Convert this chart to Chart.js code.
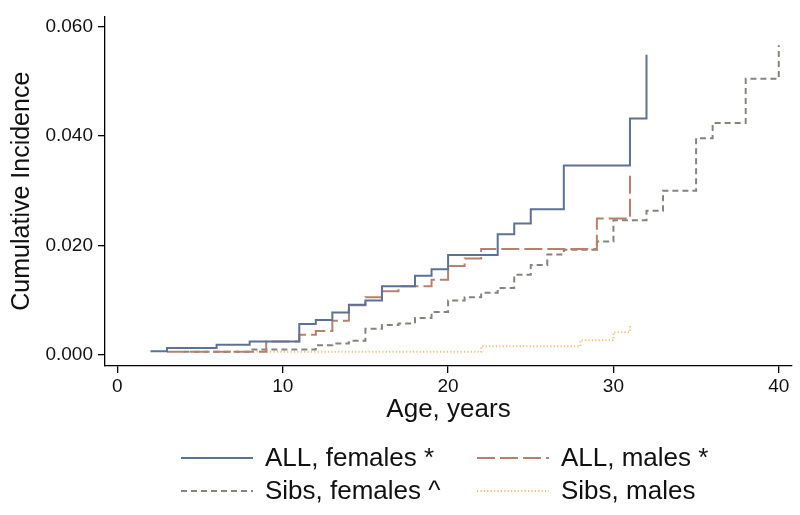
<!DOCTYPE html>
<html>
<head>
<meta charset="utf-8">
<script src="https://cdn.jsdelivr.net/npm/chart.js@4.4.0/dist/chart.umd.min.js"></script>
<style>
  html, body { margin: 0; padding: 0; background: #fff; }
  #wrap { width: 800px; height: 515px; }
</style>
</head>
<body>
<div id="wrap"><canvas id="Incidence" width="800" height="515"></canvas></div>
<script>
// ages (years) where each curve steps up, and the cumulative incidence after the step
const allFemAge = [2, 3, 6, 8, 11, 12, 13, 14, 15, 16, 18, 19, 20, 23, 24, 25, 27, 31, 32];
const allFemCI  = [0.0006, 0.0012, 0.0018, 0.0024, 0.0056, 0.0063, 0.0077, 0.0091, 0.0099, 0.0125,
                   0.0144, 0.0156, 0.0182, 0.0220, 0.0240, 0.0266, 0.0346, 0.0432, 0.0549];

const allMaleAge = [3, 9, 11, 12, 13, 14, 15, 16, 17, 19, 20, 21, 22, 29, 31];
const allMaleCI  = [0.0005, 0.0024, 0.0036, 0.0043, 0.0062, 0.0090, 0.0105, 0.0116, 0.0125, 0.0137,
                    0.0162, 0.0176, 0.0193, 0.0249, 0.0335];

const sibFemAge = [4, 8, 12, 13, 14, 15, 16, 17, 18, 19, 20, 21, 22, 23, 24, 25, 26, 27, 29, 30,
                   32, 33, 35, 36, 38, 40];
const sibFemCI  = [0.0005, 0.0009, 0.0017, 0.0020, 0.0025, 0.0047, 0.0054, 0.0057, 0.0067, 0.0078,
                   0.0099, 0.0105, 0.0113, 0.0122, 0.0146, 0.0164, 0.0183, 0.0192, 0.0207, 0.0246,
                   0.0263, 0.0300, 0.0396, 0.0424, 0.0505, 0.0566];

const sibMaleAge = [8, 22, 28, 30, 31];
const sibMaleCI  = [0.0005, 0.0015, 0.0026, 0.0041, 0.0055];

const xTicks = [0, 10, 20, 30, 40];
const yTicks = [0, 0.02, 0.04, 0.06];

const FONT = "'Liberation Sans', Arial, Helvetica, sans-serif";

function pts(ages, vals) {
    return ages.map((a, i) => ({ x: a, y: vals[i] }));
}

// two-column legend under the plot, like the Stata one
const legendBelow = {
    id: 'legendBelow',
    afterDraw(chart) {
        const ctx = chart.ctx;
        const cols = [181, 477];
        const rows = [458, 491];
        ctx.save();
        chart.data.datasets.forEach((ds, i) => {
            const x0 = cols[i % 2];
            const y0 = rows[Math.floor(i / 2)];
            ctx.strokeStyle = ds.borderColor;
            ctx.lineWidth = ds.borderWidth;
            ctx.setLineDash(ds.borderDash || []);
            ctx.beginPath();
            ctx.moveTo(x0, y0);
            ctx.lineTo(x0 + 72, y0);
            ctx.stroke();
            ctx.setLineDash([]);
            ctx.fillStyle = '#111';
            ctx.font = '26px ' + FONT;
            ctx.textBaseline = 'middle';
            ctx.textAlign = 'left';
            ctx.fillText(ds.label, x0 + 84, y0 + 1);
        });
        ctx.restore();
    }
};

const ctx = document.getElementById('Incidence').getContext('2d');
const Incidence = new Chart(ctx, {
    type: 'line',
    data: {
        datasets: [{
            label: 'ALL, females *',
            data: pts(allFemAge, allFemCI),
            borderColor: '#5d7192',
            borderWidth: 2,
            stepped: 'before'
        }, {
            label: 'ALL, males *',
            data: pts(allMaleAge, allMaleCI),
            borderColor: '#b7806c',
            borderWidth: 2,
            borderDash: [18, 5],
            stepped: 'before'
        }, {
            label: 'Sibs, females ^',
            data: pts(sibFemAge, sibFemCI),
            borderColor: '#84847e',
            borderWidth: 2,
            borderDash: [6, 4],
            stepped: 'before'
        }, {
            label: 'Sibs, males',
            data: pts(sibMaleAge, sibMaleCI),
            borderColor: '#f2bd78',
            borderWidth: 2,
            borderDash: [1.2, 2.2],
            stepped: 'before'
        }]
    },
    plugins: [legendBelow],
    options: {
        responsive: false,
        animation: false,
        events: [],
        elements: { point: { radius: 0 } },
        layout: { padding: { top: 10, right: 8, left: 0, bottom: 0 } },
        plugins: {
            legend: { display: false },
            tooltip: { enabled: false }
        },
        scales: {
            x: {
                type: 'linear',
                min: -0.75,
                max: 40.8,
                afterFit: s => { s.height = 149; },
                afterBuildTicks: s => { s.ticks = xTicks.map(v => ({ value: v })); },
                border: { display: true, color: '#000', width: 1.3 },
                grid: { display: true, drawOnChartArea: false, drawTicks: true, tickLength: 7, color: '#000', lineWidth: 1.3 },
                ticks: { color: '#111', font: { family: FONT, size: 19 }, padding: 2, maxRotation: 0 },
                title: {
                    display: true,
                    text: 'Age, years',
                    color: '#111',
                    font: { family: FONT, size: 26 },
                    padding: { top: 0, bottom: 90 }
                }
            },
            y: {
                type: 'linear',
                min: -0.0021,
                max: 0.0619,
                afterFit: s => { s.width = 105; },
                afterBuildTicks: s => { s.ticks = yTicks.map(v => ({ value: v })); },
                border: { display: true, color: '#000', width: 1.3 },
                grid: { display: true, drawOnChartArea: false, drawTicks: true, tickLength: 7, color: '#000', lineWidth: 1.3 },
                ticks: {
                    color: '#111',
                    font: { family: FONT, size: 19 },
                    padding: 5,
                    callback: v => v.toFixed(3)
                },
                title: {
                    display: true,
                    text: 'Cumulative Incidence',
                    color: '#111',
                    font: { family: FONT, size: 25 },
                    padding: { top: 7, bottom: 0 }
                }
            }
        }
    }
});
</script>
</body>
</html>
